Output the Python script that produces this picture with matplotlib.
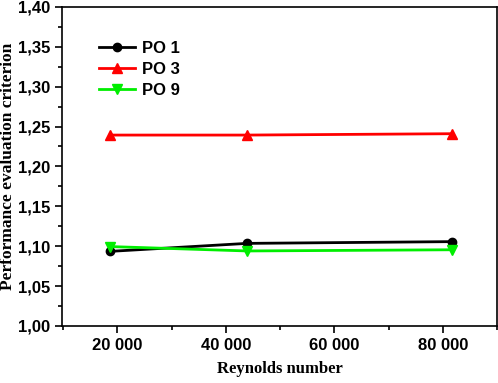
import matplotlib
matplotlib.use("Agg")
import matplotlib.pyplot as plt
from matplotlib.ticker import MultipleLocator, FuncFormatter

# Reynolds numbers and performance evaluation criterion per configuration
reynolds = [18700, 43900, 81700]
po1 = [1.0935, 1.1035, 1.1057]
po3 = [1.2393, 1.2393, 1.2410]
po9 = [1.0995, 1.0940, 1.0955]

fig = plt.figure(figsize=(4.98, 3.83), dpi=100)
ax = fig.add_axes([0.1245, 0.149, 0.874, 0.833])

ax.plot(reynolds, po1, color="black", marker="o", markersize=6, lw=2, label="PO 1")
ax.plot(reynolds, po3, color="#ff0000", marker="^", markersize=7, lw=2, label="PO 3")
ax.plot(reynolds, po9, color="#00ee00", marker="v", markersize=7, lw=2, label="PO 9")

ax.set_xlim(9800, 90000)
ax.set_ylim(1.0, 1.4)
ax.xaxis.set_major_locator(MultipleLocator(20000))
ax.xaxis.set_minor_locator(MultipleLocator(10000))
ax.yaxis.set_major_locator(MultipleLocator(0.05))
ax.yaxis.set_minor_locator(MultipleLocator(0.025))
ax.xaxis.set_major_formatter(FuncFormatter(lambda v, p: f"{int(v):,}".replace(",", " ")))
ax.yaxis.set_major_formatter(FuncFormatter(lambda v, p: f"{v:.2f}".replace(".", ",")))

ax.tick_params(which="both", direction="out", width=1.2, colors="black")
ax.tick_params(which="major", length=5)
ax.tick_params(which="minor", length=3)
for lab in ax.get_xticklabels() + ax.get_yticklabels():
    lab.set_fontfamily("Liberation Sans")
    lab.set_fontweight("bold")
    lab.set_fontsize(12)
for s in ax.spines.values():
    s.set_linewidth(1.2)

ax.set_xlabel("Reynolds number", fontfamily="Liberation Serif", fontweight="bold",
              fontsize=12, labelpad=6)
ax.set_ylabel("Performance evaluation criterion", fontfamily="Liberation Serif",
              fontweight="bold", fontsize=12.5, labelpad=1)

ax.legend(loc="upper left", bbox_to_anchor=(0.05, 0.94), frameon=False,
          prop={"family": "Liberation Sans", "weight": "bold", "size": 12},
          handlelength=2.2, handletextpad=0.4, labelspacing=0.35)

fig.savefig("out.png", dpi=100)
